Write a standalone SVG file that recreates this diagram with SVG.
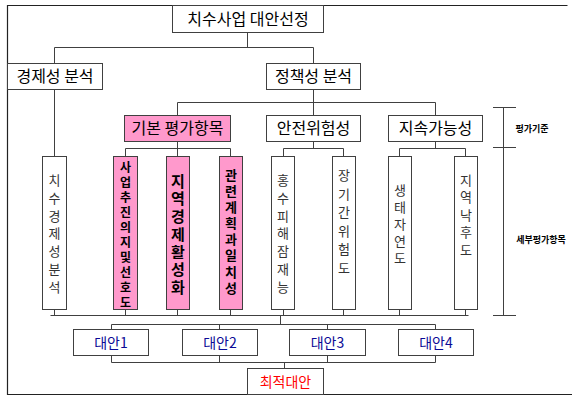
<svg xmlns="http://www.w3.org/2000/svg" width="572" height="396" viewBox="0 0 572 396">
<style>
text{font-family:"Noto Sans CJK KR","Noto Sans",sans-serif;fill:#000;text-anchor:middle}
.box{fill:#fff;stroke:#404040;stroke-width:1}
.pink{fill:#FF99CC;stroke:#404040;stroke-width:1}
.c{fill:none;stroke:#404040;stroke-width:1}
.t1{font-size:16px}
.vt{writing-mode:vertical-rl;text-orientation:upright;text-anchor:start}
.v{font-size:13px;fill:#333}
.vb{font-weight:bold}
.alt{font-size:14px;fill:#0A0A96}
.ann{font-size:9px;font-weight:bold}
</style>
<rect width="572" height="396" fill="#fff"/>
<path d="M567.5 5.5H7.5V394.5H572" fill="none" stroke="#222" stroke-width="1.2"/>

<g id="connectors">
<path class="c" d="M247.5 32V47.5M54.5 47.5H313.5M54.5 47.5V63M313.5 47.5V63"/>
<path class="c" d="M54.5 89V156"/>
<path class="c" d="M313.5 89V102.5M177.5 102.5H435.5M177.5 102.5V115M313.5 102.5V115M435.5 102.5V115"/>
<path class="c" d="M177.5 141V148.5M125.5 148.5H230.5M125.5 148.5V156M177.5 148.5V156M230.5 148.5V156"/>
<path class="c" d="M313.5 141V148.5M283.5 148.5H343.5M283.5 148.5V156M343.5 148.5V156"/>
<path class="c" d="M435.5 141V148.5M399.5 148.5H465.5M399.5 148.5V156M465.5 148.5V156"/>
<path class="c" d="M54.5 309V315.5M125.5 309V315.5M177.5 309V315.5M230.5 309V315.5M283.5 309V315.5M343.5 309V315.5M399.5 309V315.5M465.5 309V315.5M50.5 315.5H468.5"/>
<path class="c" d="M280.5 315.5V324.5M111.5 324.5H435.5M111.5 324.5V329M219.5 324.5V329M327.5 324.5V329M435.5 324.5V329"/>
<path class="c" d="M111.5 355V362.5M219.5 355V362.5M327.5 355V362.5M435.5 355V362.5M111.5 362.5H435.5M284.5 362.5V368"/>
<path class="c" d="M503.5 107V315M493 107.5H516M493 147.5H516M493 315.5H516"/>
</g>

<g id="n-top"><rect class="box" x="172.5" y="5.5" width="151" height="27"/><text class="t1" x="248" y="24.5">치수사업 대안선정</text></g>
<g id="n-econ"><rect class="box" x="7.5" y="63.5" width="95" height="26"/><text class="t1" x="55" y="82">경제성 분석</text></g>
<g id="n-policy"><rect class="box" x="266.5" y="63.5" width="94" height="26"/><text class="t1" x="313.5" y="82">정책성 분석</text></g>
<g id="n-basic"><rect class="pink" x="124.5" y="115.5" width="106" height="26"/><text class="t1" x="177.5" y="134">기본 평가항목</text></g>
<g id="n-safety"><rect class="box" x="266.5" y="115.5" width="94" height="26"/><text class="t1" x="313.5" y="134">안전위험성</text></g>
<g id="n-sustain"><rect class="box" x="388.5" y="115.5" width="94" height="26"/><text class="t1" x="435.5" y="134">지속가능성</text></g>

<g id="n-s1"><rect class="box" x="42.5" y="156.5" width="24" height="153"/>
<text class="vt v" x="54.5" y="173.5" style="letter-spacing:4.8px">치수경제성분석</text></g>
<g id="n-s2"><rect class="pink" x="113.5" y="156.5" width="24" height="153"/>
<text class="vt vb" x="125.5" y="161" style="font-size:12px;letter-spacing:3px">사업추진의지및선호도</text></g>
<g id="n-s3"><rect class="pink" x="166.5" y="156.5" width="23" height="153"/>
<text class="vt vb" x="178" y="173.5" style="font-size:15px;letter-spacing:2.7px">지역경제활성화</text></g>
<g id="n-s4"><rect class="pink" x="219.5" y="156.5" width="23" height="153"/>
<text class="vt vb" x="231" y="168.5" style="font-size:13px;letter-spacing:3.1px">관련계획과일치성</text></g>
<g id="n-s5"><rect class="box" x="271.5" y="156.5" width="23" height="153"/>
<text class="vt v" x="283" y="173.5" style="letter-spacing:4.8px">홍수피해잠재능</text></g>
<g id="n-s6"><rect class="box" x="332.5" y="156.5" width="23" height="153"/>
<text class="vt v" x="344" y="168.5" style="letter-spacing:5.6px">장기간위험도</text></g>
<g id="n-s7"><rect class="box" x="388.5" y="156.5" width="23" height="153"/>
<text class="vt v" x="400" y="183.5" style="letter-spacing:4px">생태자연도</text></g>
<g id="n-s8"><rect class="box" x="454.5" y="156.5" width="23" height="153"/>
<text class="vt v" x="466" y="173.5" style="letter-spacing:4.5px">지역낙후도</text></g>

<g id="n-a1"><rect class="box" x="73.5" y="329.5" width="75" height="26"/><text class="alt" x="111" y="347.5">대안1</text></g>
<g id="n-a2"><rect class="box" x="182.5" y="329.5" width="75" height="26"/><text class="alt" x="220" y="347.5">대안2</text></g>
<g id="n-a3"><rect class="box" x="289.5" y="329.5" width="76" height="26"/><text class="alt" x="327.5" y="347.5">대안3</text></g>
<g id="n-a4"><rect class="box" x="398.5" y="329.5" width="75" height="26"/><text class="alt" x="436" y="347.5">대안4</text></g>
<g id="n-best"><rect class="box" x="247.5" y="368.5" width="76" height="26"/><text class="alt" style="fill:#FF0000" x="285.5" y="387">최적대안</text></g>

<g id="annotations">
<text class="ann" x="532" y="132">평가기준</text>
<text class="ann" x="541" y="243">세부평가항목</text>
</g>
</svg>
